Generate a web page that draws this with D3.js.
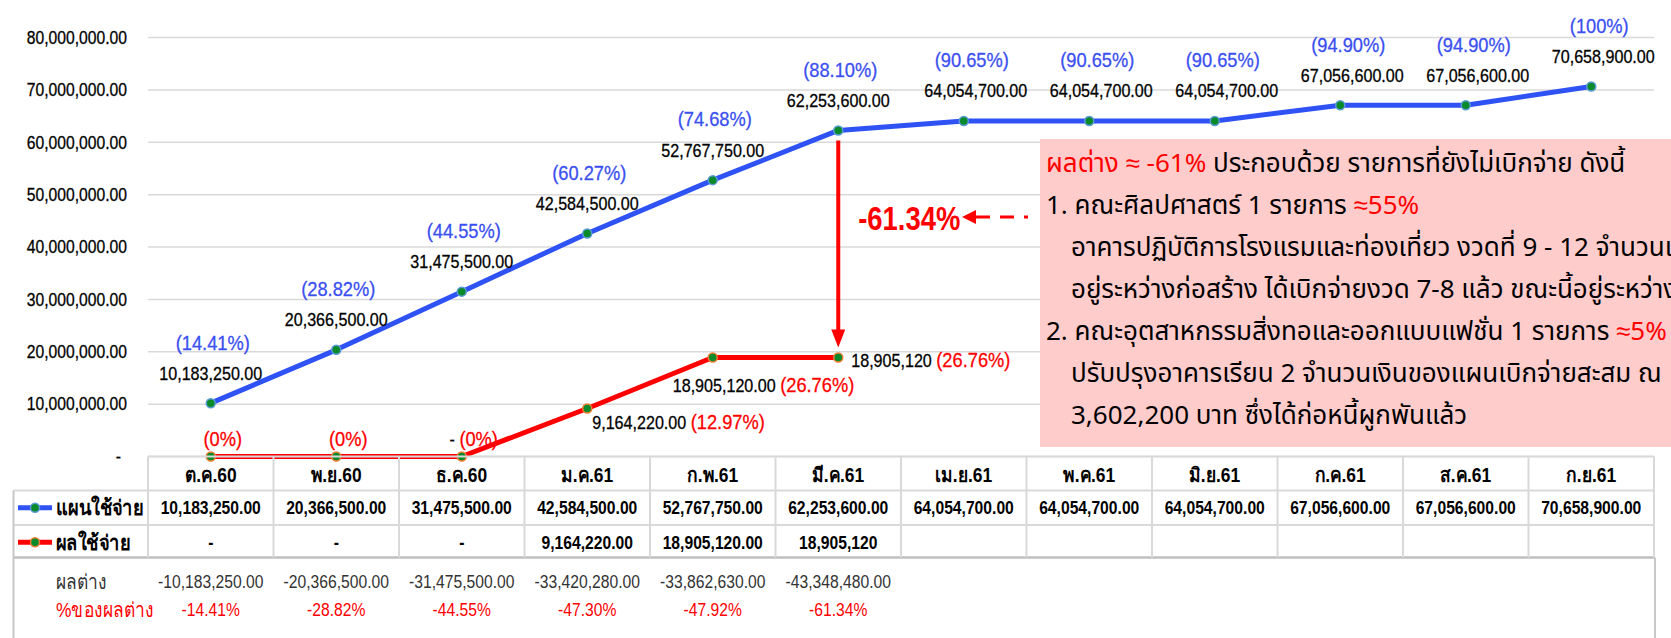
<!DOCTYPE html>
<html>
<head>
<meta charset="utf-8">
<script src="https://cdn.jsdelivr.net/npm/d3@7"></script>
<style>
    body { margin: 0; background: #fff; }
    text { font-family: "Liberation Sans", Arial, sans-serif; }
</style>
</head>
<body>
<div id="chart"></div>
<script>
// months on the x axis (Thai fiscal year 2561)
var months = ["ต.ค.60", "พ.ย.60", "ธ.ค.60", "ม.ค.61", "ก.พ.61", "มี.ค.61",
    "เม.ย.61", "พ.ค.61", "มิ.ย.61", "ก.ค.61", "ส.ค.61", "ก.ย.61"];

// plan (แผนใช้จ่าย)
var planValues = [10183250, 20366500, 31475500, 42584500, 52767750, 62253600,
    64054700, 64054700, 64054700, 67056600, 67056600, 70658900];
var planPct = ["14.41%", "28.82%", "44.55%", "60.27%", "74.68%", "88.10%",
    "90.65%", "90.65%", "90.65%", "94.90%", "94.90%", "100%"];

// actual (ผลใช้จ่าย)
var actualValues = [0, 0, 0, 9164220, 18905120, 18905120];
var actualText = ["-", "-", "-", "9,164,220.00", "18,905,120.00", "18,905,120"];
var actualLabels = ["", "", "-", "9,164,220.00", "18,905,120.00", "18,905,120"];
var actualPct = ["0%", "0%", "0%", "12.97%", "26.76%", "26.76%"];
var actualPlace = ["above", "above", "above", "belowRight", "below", "right"];

// difference rows under the table
var diffValues = [-10183250, -20366500, -31475500, -33420280, -33862630, -43348480];
var diffPct = ["-14.41%", "-28.82%", "-44.55%", "-47.30%", "-47.92%", "-61.34%"];

var yTicks = [0, 10000000, 20000000, 30000000, 40000000, 50000000, 60000000, 70000000, 80000000];

var gapLabel = "-61.34%";

var RED = "#ff0000";
var noteLines = [
    {indent: false, parts: [["ผลต่าง ≈ -61%", RED], [" ประกอบด้วย รายการที่ยังไม่เบิกจ่าย ดังนี้", "#000"]]},
    {indent: false, parts: [["1. คณะศิลปศาสตร์ 1 รายการ ", "#000"], ["≈55%", RED]]},
    {indent: true, parts: [["อาคารปฏิบัติการโรงแรมและท่องเที่ยว งวดที่ 9 - 12 จำนวนเงิน", "#000"]]},
    {indent: true, parts: [["อยู่ระหว่างก่อสร้าง ได้เบิกจ่ายงวด 7-8 แล้ว ขณะนี้อยู่ระหว่างเบิก", "#000"]]},
    {indent: false, parts: [["2. คณะอุตสาหกรรมสิ่งทอและออกแบบแฟชั่น 1 รายการ ", "#000"], ["≈5%", RED]]},
    {indent: true, parts: [["ปรับปรุงอาคารเรียน 2 จำนวนเงินของแผนเบิกจ่ายสะสม ณ", "#000"]]},
    {indent: true, parts: [["3,602,200 บาท ซึ่งได้ก่อหนี้ผูกพันแล้ว", "#000"]]}
];

var width = 1671, height = 638;
var BLUE = "#2f52f5", BLUE_TXT = "#3a4ff0";
var fmt = d3.format(",.2f");
var K = 0.87; // horizontal squeeze so Arial-like text reads like the narrow Excel font

// squeeze text horizontally around its anchor
function condense(sel, k) {
    sel.each(function () {
        var w = this.getComputedTextLength();
        d3.select(this)
            .attr("textLength", w * k)
            .attr("lengthAdjust", "spacingAndGlyphs");
    });
}

var svg = d3.select("#chart")
    .append("svg")
    .attr("width", width)
    .attr("height", height);

var x = d3.scaleBand().domain(months).range([148, 1654]);
var y = d3.scaleLinear().domain([0, 80000000]).range([456.5, 37.5]);
var bw = x.bandwidth();
function cx(i) { return x(months[i]) + bw / 2; }

// gridlines
svg.append("g")
    .selectAll("line")
    .data(yTicks)
    .enter().append("line")
    .attr("x1", 148).attr("x2", 1654)
    .attr("y1", function (d) { return y(d); })
    .attr("y2", function (d) { return y(d); })
    .style("stroke", "#d9d9d9")
    .style("stroke-width", 1.5);

// y axis labels
var yAxis = d3.axisLeft(y)
    .tickValues(yTicks)
    .tickSize(0)
    .tickPadding(21)
    .tickFormat(function (d) { return d === 0 ? "-" : fmt(d); });
var gy = svg.append("g").attr("transform", "translate(148,0)").call(yAxis);
gy.select(".domain").remove();
gy.selectAll("text")
    .style("font-size", "18px")
    .style("font-family", "'Liberation Sans', Arial, sans-serif")
    .style("fill", "#000")
    .style("stroke", "#000")
    .style("stroke-width", 0.3);
gy.selectAll(".tick").filter(function (d) { return d === 0; })
    .select("text").attr("dx", -6);
condense(gy.selectAll("text"), K);

// note box
var note = svg.append("g");
note.append("rect")
    .attr("x", 1040).attr("y", 139)
    .attr("width", 700).attr("height", 308)
    .attr("fill", "#ffcccc");
noteLines.forEach(function (line, i) {
    var t = note.append("text")
        .attr("x", line.indent ? 1071 : 1046)
        .attr("y", 163 + i * 42)
        .attr("dy", "0.35em")
        .style("font-size", "26px")
        .style("font-family", "'Noto Sans Thai', 'Noto Sans', sans-serif");
    line.parts.forEach(function (p) {
        t.append("tspan").text(p[0]).style("fill", p[1]);
    });
});

// lines
var line = d3.line()
    .x(function (d, i) { return cx(i); })
    .y(function (d) { return y(d); });

svg.append("path")
    .datum(planValues)
    .attr("d", line)
    .attr("fill", "none")
    .style("stroke", BLUE)
    .style("stroke-width", 5)
    .style("stroke-linejoin", "round");

svg.append("path")
    .datum(actualValues)
    .attr("d", line)
    .attr("fill", "none")
    .style("stroke", RED)
    .style("stroke-width", 5)
    .style("stroke-linejoin", "round");

// gap arrow between plan and actual at the last actual month
var gi = actualValues.length - 1;
var ax = cx(gi), ay1 = y(planValues[gi]) + 10, ay2 = y(actualValues[gi]) - 10;
svg.append("line")
    .attr("x1", ax).attr("x2", ax)
    .attr("y1", ay1).attr("y2", ay2 - 16)
    .style("stroke", RED)
    .style("stroke-width", 4);
svg.append("path")
    .attr("d", "M" + (ax - 7) + "," + (ay2 - 18) + "L" + (ax + 7) + "," + (ay2 - 18) + "L" + ax + "," + ay2 + "Z")
    .attr("fill", RED);

svg.append("text")
    .attr("x", ax + 20)
    .attr("y", 218)
    .attr("dy", "0.35em")
    .attr("textLength", 102)
    .attr("lengthAdjust", "spacingAndGlyphs")
    .style("font-size", "34px")
    .style("font-weight", "bold")
    .style("fill", RED)
    .text(gapLabel);
svg.append("path")
    .attr("d", "M962,217L976,210L976,224Z")
    .attr("fill", RED);
svg.append("line")
    .attr("x1", 976).attr("x2", 1028)
    .attr("y1", 217).attr("y2", 217)
    .style("stroke", RED)
    .style("stroke-width", 3)
    .style("stroke-dasharray", "14,10");

// markers
function markers(values, ring) {
    svg.append("g")
        .selectAll("circle")
        .data(values)
        .enter().append("circle")
        .attr("cx", function (d, i) { return cx(i); })
        .attr("cy", function (d) { return y(d); })
        .attr("r", 4.5)
        .attr("fill", "#0a8a2a")
        .style("stroke", ring)
        .style("stroke-width", 1.5);
}
markers(planValues, "#5b9bd5");
markers(actualValues, "#ed7d31");

// plan labels
var pl = svg.append("g");
pl.selectAll(".val")
    .data(planValues)
    .enter().append("text")
    .attr("class", "val")
    .attr("x", function (d, i) { return cx(i) + (i < 6 ? 0 : 12); })
    .attr("y", function (d) { return y(d) - 30; })
    .attr("dy", "0.35em")
    .attr("text-anchor", "middle")
    .style("font-size", "18.5px")
    .style("fill", "#000")
    .style("stroke", "#000")
    .style("stroke-width", 0.3)
    .text(function (d) { return fmt(d); });
pl.selectAll(".pct")
    .data(planPct)
    .enter().append("text")
    .attr("class", "pct")
    .attr("x", function (d, i) { return cx(i) + (i < 6 ? 2 : 8); })
    .attr("y", function (d, i) { return y(planValues[i]) - 61; })
    .attr("dy", "0.35em")
    .attr("text-anchor", "middle")
    .style("font-size", "21px")
    .style("fill", BLUE_TXT)
    .style("stroke", BLUE_TXT)
    .style("stroke-width", 0.3)
    .text(function (d) { return "(" + d + ")"; });
condense(pl.selectAll("text"), K);

// actual labels
var place = {
    above: [12, -16, "middle"],
    right: [13, 4, "start"],
    belowRight: [5, 15, "start"],
    below: [-40, 29, "start"]
};
var al = svg.append("g");
actualValues.forEach(function (v, i) {
    var p = place[actualPlace[i]];
    var t = al.append("text")
        .attr("x", cx(i) + p[0])
        .attr("y", y(v) + p[1])
        .attr("dy", "0.35em")
        .attr("text-anchor", p[2])
        .style("stroke-width", 0.3);
    if (actualLabels[i] !== "") {
        t.append("tspan").text(actualLabels[i] + " ")
            .style("font-size", "18.5px").style("fill", "#000").style("stroke", "#000");
    }
    t.append("tspan").text("(" + actualPct[i] + ")")
        .style("font-size", "21px").style("fill", RED).style("stroke", RED);
});
condense(al.selectAll("text"), K);

// data table
var tb = svg.append("g");
var rowY = [456.5, 490.5, 525, 557.5];
var gridColor = "#d9d9d9";

tb.append("line").attr("x1", 148).attr("x2", 1654).attr("y1", rowY[0]).attr("y2", rowY[0])
    .style("stroke", gridColor).style("stroke-width", 2);
tb.append("line").attr("x1", 13.5).attr("x2", 1654).attr("y1", rowY[1]).attr("y2", rowY[1])
    .style("stroke", gridColor).style("stroke-width", 2);
tb.append("line").attr("x1", 13.5).attr("x2", 1654).attr("y1", rowY[2]).attr("y2", rowY[2])
    .style("stroke", gridColor).style("stroke-width", 2);
tb.append("line").attr("x1", 13.5).attr("x2", 1655).attr("y1", rowY[3]).attr("y2", rowY[3])
    .style("stroke", "#bfbfbf").style("stroke-width", 2.5);
// column dividers
var bounds = months.map(function (m) { return x(m); }).concat([1654]);
tb.selectAll(".col")
    .data(bounds)
    .enter().append("line")
    .attr("x1", function (d) { return d; })
    .attr("x2", function (d) { return d; })
    .attr("y1", rowY[0]).attr("y2", rowY[3])
    .style("stroke", gridColor).style("stroke-width", 2);
tb.append("line").attr("x1", 13.5).attr("x2", 13.5).attr("y1", rowY[1]).attr("y2", height)
    .style("stroke", "#c8c8c8").style("stroke-width", 2);
tb.append("line").attr("x1", 1655).attr("x2", 1655).attr("y1", rowY[3]).attr("y2", height)
    .style("stroke", "#c8c8c8").style("stroke-width", 2);

// header
tb.selectAll(".hd")
    .data(months)
    .enter().append("text")
    .attr("class", "tt")
    .attr("x", function (d) { return x(d) + bw / 2; })
    .attr("y", (rowY[0] + rowY[1]) / 2 + 1)
    .attr("dy", "0.35em")
    .attr("text-anchor", "middle")
    .style("font-size", "20px")
    .style("font-weight", "bold")
    .style("fill", "#000")
    .text(function (d) { return d; });

// plan row
tb.selectAll(".pr")
    .data(planValues)
    .enter().append("text")
    .attr("class", "tt")
    .attr("x", function (d, i) { return cx(i); })
    .attr("y", (rowY[1] + rowY[2]) / 2)
    .attr("dy", "0.35em")
    .attr("text-anchor", "middle")
    .style("font-size", "18px")
    .style("font-weight", "bold")
    .text(function (d) { return fmt(d); });

// actual row
tb.selectAll(".ar")
    .data(actualText)
    .enter().append("text")
    .attr("class", "tt")
    .attr("x", function (d, i) { return cx(i); })
    .attr("y", (rowY[2] + rowY[3]) / 2 + 1)
    .attr("dy", "0.35em")
    .attr("text-anchor", "middle")
    .style("font-size", "18px")
    .style("font-weight", "bold")
    .text(function (d) { return d; });

// legend keys in the row headers
function legendKey(yy, color, ring, label) {
    tb.append("line").attr("x1", 18).attr("x2", 52).attr("y1", yy).attr("y2", yy)
        .style("stroke", color).style("stroke-width", 5);
    tb.append("circle").attr("cx", 35).attr("cy", yy).attr("r", 4.5)
        .attr("fill", "#0a8a2a").style("stroke", ring).style("stroke-width", 1.5);
    tb.append("text").attr("class", "tt").attr("x", 56).attr("y", yy).attr("dy", "0.35em")
        .style("font-size", "21px").style("font-weight", "bold")
        .text(label);
}
legendKey((rowY[1] + rowY[2]) / 2, BLUE, "#5b9bd5", "แผนใช้จ่าย");
legendKey((rowY[2] + rowY[3]) / 2 + 1, RED, "#ed7d31", "ผลใช้จ่าย");

// difference rows
tb.append("text").attr("class", "tt").attr("x", 56).attr("y", 582).attr("dy", "0.35em")
    .style("font-size", "20px").style("fill", "#333").text("ผลต่าง");
tb.append("text").attr("class", "tt").attr("x", 56).attr("y", 610).attr("dy", "0.35em")
    .style("font-size", "20px").style("fill", RED).text("%ของผลต่าง");
tb.selectAll(".dv")
    .data(diffValues)
    .enter().append("text")
    .attr("class", "tt")
    .attr("x", function (d, i) { return cx(i); })
    .attr("y", 582)
    .attr("dy", "0.35em")
    .attr("text-anchor", "middle")
    .style("font-size", "18px")
    .style("fill", "#333")
    .text(function (d) { return "-" + fmt(-d); });
tb.selectAll(".dp")
    .data(diffPct)
    .enter().append("text")
    .attr("class", "tt")
    .attr("x", function (d, i) { return cx(i); })
    .attr("y", 610)
    .attr("dy", "0.35em")
    .attr("text-anchor", "middle")
    .style("font-size", "18px")
    .style("fill", RED)
    .text(function (d) { return d; });
condense(tb.selectAll("text.tt"), K);
</script>
</body>
</html>
